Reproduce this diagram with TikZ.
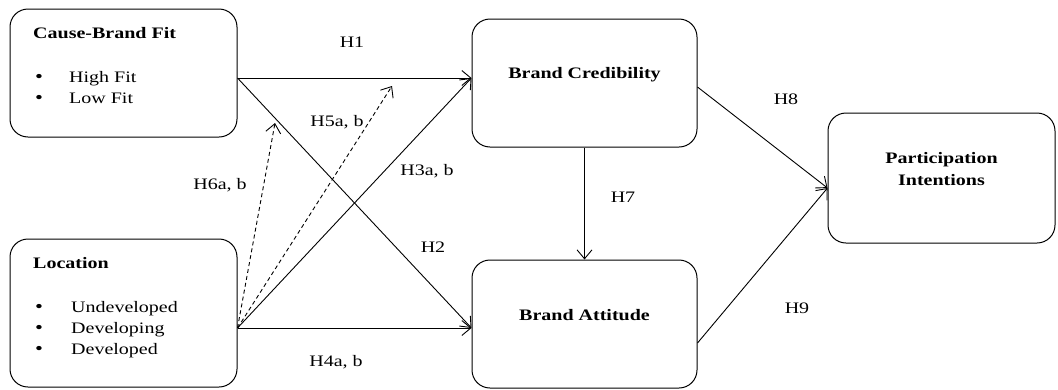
\documentclass[tikz,border=0pt]{standalone}
\usepackage{fontspec}
\setmainfont{Liberation Serif}[FakeStretch=1.25]
\usetikzlibrary{arrows.meta}
\newcommand{\bigdot}{{\fontsize{18}{21}\selectfont\textbullet}}

\begin{document}
\begin{tikzpicture}[x=1pt, y=-1pt,
  box/.style={draw, line width=1pt, rounded corners=18pt,
              minimum width=227pt, minimum height=128pt, inner sep=0pt},
  txt/.style={inner sep=0pt, anchor=base west, font=\fontsize{16}{21}\selectfont},
  ttl/.style={txt, font=\fontsize{16}{21}\selectfont\bfseries},
  hyp/.style={inner sep=0pt, font=\fontsize{16}{21}\selectfont},
  arr/.style={-{Straight Barb[length=9pt,width=15pt]}, line width=0.9pt},
  darr/.style={arr, dash pattern=on 4pt off 3pt}
]
  \useasboundingbox (0,0) rectangle (1058,389);
  % boxes
  \node[box] (fit) at (123.5,73) {};
  \node[box, minimum height=148pt] (loc) at (123.5,313) {};
  \node[box, minimum width=225pt] (cred) at (584.5,83) {};
  \node[box, minimum width=225pt] (att) at (584.5,324) {};
  \node[box, minimum height=130pt] (part) at (941.5,178) {};

  % box texts
  \node[ttl] (fitT) at (33,38) {Cause-Brand Fit};
  \node[txt] (fit1) at (35,82) {\makebox[34pt][l]{\bigdot}High Fit};
  \node[txt] (fit2) at (35,103) {\makebox[34pt][l]{\bigdot}Low Fit};
  \node[ttl] (locT) at (33,268) {Location};
  \node[txt] (loc1) at (35,312) {\makebox[36pt][l]{\bigdot}Undeveloped};
  \node[txt] (loc2) at (35,333) {\makebox[36pt][l]{\bigdot}Developing};
  \node[txt] (loc3) at (35,354) {\makebox[36pt][l]{\bigdot}Developed};
  \node[ttl, anchor=base] (credT) at (584.5,78) {Brand Credibility};
  \node[ttl, anchor=base] (attT) at (584.5,320) {Brand Attitude};
  \node[ttl, anchor=base] (partA) at (941.5,163) {Participation};
  \node[ttl, anchor=base] (partB) at (941.5,185) {Intentions};

  % paths
  \coordinate (h5end) at (392,86);
  \coordinate (h6end) at (275,123);
  \draw[arr] ([yshift=-5pt]fit.east) -- ([yshift=5pt]cred.west);
  \draw[arr] ([yshift=-5pt]fit.east) -- ([yshift=-4pt]att.west);
  \draw[arr] ([yshift=-15pt]loc.east) -- ([yshift=5pt]cred.west);
  \draw[arr] ([yshift=-15pt]loc.east) -- ([yshift=-4pt]att.west);
  \draw[darr] ([yshift=-15pt]loc.east) -- (h5end);
  \draw[darr] ([yshift=-15pt]loc.east) -- (h6end);
  \draw[arr] (cred) -- (att);
  \draw[arr] ([yshift=-4pt]cred.east) -- ([yshift=-10pt]part.west);
  \draw[arr] ([yshift=-19pt]att.east) -- ([yshift=-10pt]part.west);

  % hypotheses
  \node[hyp] (h1) at (352,42) {H1};
  \node[hyp] (h2) at (433,247) {H2};
  \node[hyp] (h3) at (427,171) {H3a, b};
  \node[hyp] (h4) at (336,362) {H4a, b};
  \node[hyp] (h5) at (337,122) {H5a, b};
  \node[hyp] (h6) at (220,185) {H6a, b};
  \node[hyp] (h7) at (623,197) {H7};
  \node[hyp] (h8) at (786,99) {H8};
  \node[hyp] (h9) at (797,308) {H9};
\end{tikzpicture}
\end{document}
